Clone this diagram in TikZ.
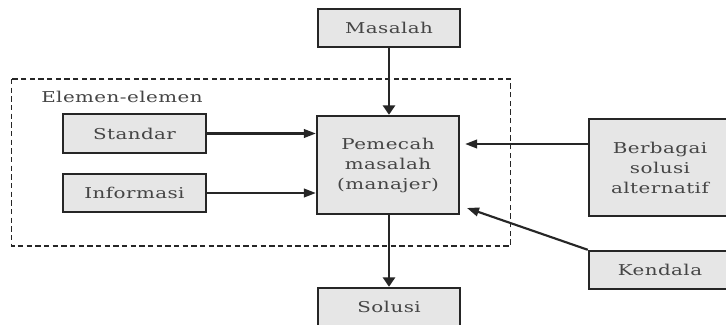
\documentclass[tikz,border=0pt]{standalone}
\usepackage{fontspec}
\setmainfont{DejaVu Serif}[FakeStretch=1.33,LetterSpace=3]
\usetikzlibrary{arrows.meta}
\definecolor{boxfill}{HTML}{E6E6E6}
\definecolor{linecol}{HTML}{262626}
\definecolor{txtcol}{HTML}{454545}
\tikzset{
  box/.style={draw=linecol, fill=boxfill, line width=1.8pt, inner sep=0pt,
    minimum width=106.5pt, text=txtcol, align=center,
    font=\fontsize{11.2}{15}\selectfont},
  lbl/.style={text=txtcol, inner sep=0pt, font=\fontsize{11.2}{15}\selectfont},
  harrow/.style={draw=linecol, line width=1.6pt, -{Triangle[length=9pt,width=6.5pt]}},
  varrow/.style={draw=linecol, line width=1.6pt, -{Triangle[length=7pt,width=9pt]}},
  dashbox/.style={draw=linecol, line width=1.3pt, dash pattern=on 4pt off 2.5pt}
}
\begin{document}
\begin{tikzpicture}[x=0.75pt,y=-0.75pt]
\clip (0,0) rectangle (726,325);
\fill[white] (0,0) rectangle (726,325);
% dashed frame
\draw[dashbox] (11.6,79) rectangle (510.6,246);
\node[lbl, anchor=west] (elemen) at (41,97) {Elemen-elemen};
% boxes
\node[box, minimum height=28.5pt] (masalah) at (389,28) {Masalah};
\node[box, minimum width=107pt, minimum height=29pt] (standar) at (134.5,133.5) {Standar};
\node[box, minimum width=107pt, minimum height=28.5pt] (informasi) at (134.5,193) {Informasi};
\node[box, minimum height=73.5pt] (pemecah) at (388,165) {Pemecah\\masalah\\(manajer)};
\node[box, minimum height=72.75pt] (berbagai) at (660,167.5) {Berbagai\\solusi\\alternatif};
\node[box, minimum height=28.5pt] (kendala) at (660,270) {Kendala};
\node[box, minimum height=28.5pt] (solusi) at (389,307) {Solusi};
% connector ends
\coordinate (bq) at (589,144);
\coordinate (kt) at (467,208);
% arrows
\draw[varrow] (masalah.south) -- (masalah.south |- pemecah.north);
\draw[harrow] (standar.east) -- (standar.east -| pemecah.west);
\draw[harrow] (informasi.east) -- (informasi.east -| pemecah.west);
\draw[harrow, shorten >=3.75pt] (berbagai.west |- bq) -- (pemecah.east |- bq);
\draw[harrow] (kendala.north west) -- (kt);
\draw[varrow] (pemecah.south -| solusi.north) -- (solusi.north);
\end{tikzpicture}
\end{document}
